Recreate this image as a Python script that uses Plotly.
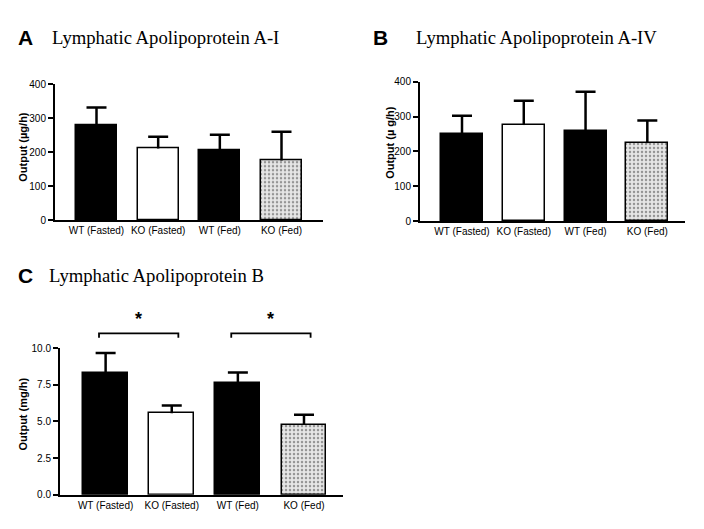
import plotly.graph_objects as go

categories = ["WT (Fasted)", "KO (Fasted)", "WT (Fed)", "KO (Fed)"]
apoA1_mean = [280, 211, 205, 175]
apoA1_sem = [51, 34, 46, 85]
apoA4_mean = [250, 276, 259, 224]
apoA4_sem = [53, 70, 113, 65]
apoB_mean = [8.27, 5.55, 7.62, 4.78]
apoB_sem = [1.40, 0.54, 0.71, 0.67]
yticks_A = [0, 100, 200, 300, 400]
yticks_C = [0.0, 2.5, 5.0, 7.5, 10.0]
yticklabels_C = ["0.0", "2.5", "5.0", "7.5", "10.0"]
sig_pairs = [(0, 1), (2, 3)]

W, H = 704, 529
def px(x): return x / W
def py(y): return 1 - y / H

fills = ["black", "white", "black", "#e6e6e6"]

fig = go.Figure()
xs = list(range(len(categories)))

def add_bars(mean, sem, xa, ya, width):
    # bars with the error stem (no caps)
    fig.add_trace(go.Bar(
        x=xs, y=mean, width=width, xaxis=xa, yaxis=ya,
        marker=dict(color=fills, line=dict(color="black", width=1.5), pattern=dict(
            shape=["", "", "", "."], fgcolor="#555555", bgcolor="#e6e6e6", size=4, solidity=0.3)),
        error_y=dict(type="data", symmetric=False, array=sem, arrayminus=[0]*len(sem),
                     color="black", thickness=2.5, width=0),
        showlegend=False, hoverinfo="skip"))
    # top caps only
    tops = [m + s for m, s in zip(mean, sem)]
    fig.add_trace(go.Scatter(
        x=xs, y=tops, xaxis=xa, yaxis=ya, mode="markers",
        marker=dict(size=1, opacity=0),
        error_y=dict(type="data", array=[0]*len(sem), color="black", thickness=2.5, width=10),
        showlegend=False, hoverinfo="skip", cliponaxis=False))

add_bars(apoA1_mean, apoA1_sem, "x", "y", 0.665)
add_bars(apoA4_mean, apoA4_sem, "x2", "y2", 0.68)
add_bars(apoB_mean, apoB_sem, "x3", "y3", 0.68)

dA = dict(x=[px(55), px(323)], y=[py(219), py(80)])
dB = dict(x=[px(420), px(685)], y=[py(220), py(77.7)])
dC = dict(x=[px(60), px(343)], y=[py(500), py(350)])

tickfont = dict(family="Arial, Liberation Sans", size=10, color="black")

def xaxis(dom, rng, anchor):
    return dict(domain=dom, range=rng, anchor=anchor, tickmode="array", tickvals=xs,
                ticktext=categories, showline=True, linewidth=2, linecolor="black",
                ticks="", showgrid=False, zeroline=False, tickfont=tickfont, fixedrange=True)

def yaxis(dom, rng, anchor, tv, tt):
    return dict(domain=dom, range=rng, anchor=anchor, tickmode="array", tickvals=tv, ticktext=tt,
                showline=True, linewidth=2, linecolor="black", ticks="outside", ticklen=5,
                tickwidth=2, tickcolor="black", showgrid=False, zeroline=False, tickfont=tickfont,
                fixedrange=True)

layout = dict(
    width=W, height=H, margin=dict(l=0, r=0, t=0, b=0),
    paper_bgcolor="white", plot_bgcolor="white", bargap=0,
    xaxis=xaxis(dA["x"], [-0.673, 3.673], "y"),
    yaxis=yaxis(dA["y"], [0, 400], "x", yticks_A, [str(v) for v in yticks_A]),
    xaxis2=xaxis(dB["x"], [-0.68, 3.61], "y2"),
    yaxis2=yaxis(dB["y"], [0, 400], "x2", yticks_A, [str(v) for v in yticks_A]),
    xaxis3=xaxis(dC["x"], [-0.69, 3.59], "y3"),
    yaxis3=yaxis(dC["y"], [0, 10], "x3", yticks_C, yticklabels_C),
)
fig.update_layout(**layout)

ann = []
def panel_title(letter, lx, tx, yc, text):
    ann.append(dict(x=px(lx), y=py(yc), xref="paper", yref="paper", xanchor="left", yanchor="middle",
                    text="<b>%s</b>" % letter, showarrow=False,
                    font=dict(family="Arial, Liberation Sans", size=21, color="black")))
    ann.append(dict(x=px(tx), y=py(yc), xref="paper", yref="paper", xanchor="left", yanchor="middle",
                    text=text, showarrow=False,
                    font=dict(family="Times New Roman, Liberation Serif", size=18.7, color="black")))

panel_title("A", 16, 50, 32, "Lymphatic Apolipoprotein A-I")
panel_title("B", 371, 414, 32, "Lymphatic Apolipoprotein A-IV")
panel_title("C", 16, 47, 276, "Lymphatic Apolipoprotein B")

def ytitle(x, y, text):
    ann.append(dict(x=px(x), y=py(y), xref="paper", yref="paper", xanchor="center", yanchor="middle",
                    text="<b>%s</b>" % text, textangle=-90, showarrow=False,
                    font=dict(family="Arial, Liberation Sans", size=11, color="black")))

ytitle(23, 144, "Output (µg/h)")
ytitle(390, 140, "Output (µ g/h)")
ytitle(23, 418, "Output (mg/h)")

# significance brackets for panel C
def val2paper(v):
    d = dC["y"]
    return d[0] + (v - 0) / 10 * (d[1] - d[0])

shapes = []
bracket_top = 11.0
bracket_drop = 0.3
for a, b in sig_pairs:
    xa, xb = a - 0.1, b + 0.1
    shapes.append(dict(type="path", xref="x3", yref="paper",
                       path="M %f,%f L %f,%f L %f,%f L %f,%f" % (
                           xa, val2paper(bracket_top - bracket_drop), xa, val2paper(bracket_top),
                           xb, val2paper(bracket_top), xb, val2paper(bracket_top - bracket_drop)),
                       line=dict(color="black", width=1.8)))
    ann.append(dict(x=(a + b) / 2, y=val2paper(bracket_top) + 0.004, xref="x3", yref="paper",
                    xanchor="center", yanchor="bottom", text="<b>*</b>", showarrow=False,
                    font=dict(family="Arial, Liberation Sans", size=18, color="black")))

fig.update_layout(annotations=ann, shapes=shapes)
fig.write_html("out.html", config={"displayModeBar": False},
               post_script="document.body.style.margin='0';document.body.style.overflow='hidden';")
